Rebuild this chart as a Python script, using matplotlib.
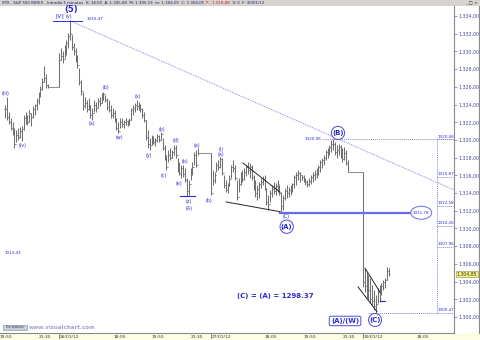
import matplotlib
matplotlib.use("Agg")
import matplotlib.pyplot as plt
from matplotlib.collections import LineCollection
from matplotlib.patches import Rectangle, Ellipse

# ---------------- data ----------------
SESSION = 82                      # 5-minute slots per session (15:30 .. 22:15)
sessions = ["25/01/12", "26/01/12", "27/01/12", "30/01/12"]
first_bar = 53                    # 25/01/12 19:55

high_25 = [1324.0, 1324.9, 1323.2, 1322.5, 1322.0, 1321.4, 1321.1, 1321.4, 1321.5, 1321.6,
           1322.8, 1323.2, 1322.8, 1323.4, 1323.1, 1323.8, 1324.1, 1324.7, 1325.4, 1326.1,
           1327.0, 1328.4, 1327.5, 1326.3, 1326.0, 1326.0, 1326.0, 1326.0, 1326.0]
low_25 = [1322.5, 1322.3, 1321.8, 1321.1, 1320.6, 1319.1, 1319.8, 1320.0, 1320.2, 1319.9,
          1321.1, 1321.8, 1321.7, 1322.0, 1321.6, 1322.5, 1322.8, 1323.4, 1324.1, 1324.9,
          1325.7, 1326.6, 1325.9, 1325.9, 1326.0, 1326.0, 1326.0, 1326.0, 1326.0]
close_25 = [1323.5, 1322.6, 1322.0, 1321.4, 1320.8, 1319.6, 1320.6, 1320.3, 1321.0, 1321.2,
            1322.5, 1322.2, 1322.0, 1323.0, 1322.6, 1323.5, 1323.9, 1324.4, 1325.0, 1325.8,
            1326.6, 1327.0, 1326.2, 1326.0, 1326.0, 1326.0, 1326.0, 1326.0, 1326.0]

high_26 = [1329.8, 1330.4, 1330.0, 1330.7, 1331.3, 1332.1, 1333.47, 1331.9, 1331.0, 1330.4,
           1329.6, 1328.1, 1326.8, 1325.4, 1324.9, 1324.5, 1324.7, 1324.0, 1323.6, 1324.5,
           1324.3, 1324.7, 1324.9, 1325.3, 1325.4, 1325.1, 1324.7, 1324.5, 1324.0, 1323.6,
           1323.4, 1322.5, 1322.0, 1322.5, 1322.5, 1322.3, 1322.5, 1322.3, 1322.5, 1323.6,
           1324.0, 1324.2, 1324.5, 1324.3, 1324.1, 1323.6, 1323.2, 1322.3, 1321.1, 1320.2,
           1320.6, 1320.4, 1320.2, 1320.7, 1320.6, 1320.9, 1320.2, 1319.4, 1318.3, 1318.9,
           1319.1, 1318.9, 1319.4, 1319.4, 1318.0, 1317.5, 1317.2, 1317.2, 1316.8, 1315.7,
           1315.5, 1316.8, 1317.5, 1318.6, 1318.9, 1319.1,
           1318.5, 1318.5, 1318.5, 1318.5, 1318.5, 1318.5]
low_26 = [1326.0, 1329.0, 1328.7, 1329.3, 1329.6, 1330.4, 1331.3, 1330.2, 1329.6, 1328.8,
          1328.1, 1326.2, 1325.1, 1323.4, 1323.6, 1323.2, 1323.4, 1322.5, 1322.3, 1323.2,
          1323.2, 1323.6, 1323.8, 1324.2, 1324.5, 1324.3, 1323.4, 1323.2, 1322.5, 1322.5,
          1322.0, 1321.1, 1320.8, 1321.4, 1321.5, 1321.4, 1321.7, 1321.6, 1321.7, 1322.3,
          1322.8, 1323.2, 1323.4, 1323.4, 1323.2, 1322.5, 1322.0, 1320.0, 1319.1, 1318.9,
          1319.4, 1319.6, 1319.3, 1319.8, 1319.8, 1320.0, 1318.9, 1317.7, 1316.6, 1317.5,
          1317.7, 1318.0, 1318.3, 1318.0, 1316.4, 1316.0, 1315.7, 1315.8, 1315.3, 1313.7,
          1313.8, 1315.5, 1316.0, 1317.2, 1316.9, 1318.3,
          1318.5, 1318.5, 1318.5, 1318.5, 1318.5, 1318.5]
close_26 = [1329.0, 1329.5, 1329.2, 1330.3, 1331.0, 1331.8, 1332.0, 1330.5, 1330.0, 1329.2,
            1328.5, 1326.6, 1325.5, 1323.8, 1324.2, 1323.5, 1324.0, 1322.8, 1323.0, 1324.0,
            1323.6, 1324.4, 1324.2, 1325.0, 1325.2, 1324.5, 1323.7, 1323.4, 1322.8, 1323.0,
            1322.3, 1321.4, 1321.0, 1322.0, 1321.8, 1322.0, 1322.2, 1321.9, 1322.3, 1323.4,
            1323.6, 1324.0, 1323.8, 1324.0, 1323.5, 1322.8, 1322.3, 1320.3, 1319.5, 1319.4,
            1320.0, 1319.8, 1320.0, 1320.4, 1320.0, 1320.7, 1319.1, 1318.0, 1316.9, 1318.3,
            1318.0, 1318.6, 1319.1, 1318.3, 1316.6, 1316.3, 1316.8, 1316.2, 1315.5, 1314.2,
            1315.0, 1316.5, 1317.0, 1318.3, 1317.2, 1318.5,
            1318.5, 1318.5, 1318.5, 1318.5, 1318.5, 1318.5]

high_27 = [1318.5, 1316.6, 1316.4, 1317.5, 1317.7, 1318.1, 1318.0, 1316.0, 1315.5, 1315.1,
           1316.0, 1317.2, 1317.7, 1317.2, 1315.5, 1315.7, 1316.4, 1316.6, 1316.8, 1317.2,
           1317.5, 1317.4, 1317.2, 1316.0, 1315.5, 1314.9, 1315.3, 1315.7, 1315.9, 1316.0,
           1314.6, 1313.8, 1314.4, 1314.9, 1315.3, 1315.1, 1315.5, 1314.9, 1314.1, 1313.8,
           1314.6, 1314.9, 1314.7, 1314.9, 1315.1, 1316.0, 1316.4, 1316.6, 1316.4, 1316.0,
           1316.0, 1315.7, 1315.5, 1315.7, 1316.0, 1316.4, 1316.6, 1316.8, 1317.2, 1317.7,
           1318.0, 1318.3, 1318.9, 1319.1, 1319.4, 1320.0, 1320.06, 1319.8, 1319.4, 1319.6,
           1319.4, 1319.1, 1319.2, 1318.9, 1317.7,
           1316.4, 1316.4, 1316.4, 1316.4, 1316.4, 1316.4, 1316.4]
low_27 = [1313.8, 1314.9, 1315.1, 1316.4, 1316.6, 1316.8, 1316.0, 1314.6, 1314.1, 1314.0,
          1314.8, 1315.7, 1316.4, 1315.5, 1313.2, 1314.1, 1314.9, 1315.3, 1315.5, 1315.9,
          1316.2, 1315.7, 1315.5, 1314.4, 1313.6, 1313.2, 1313.4, 1314.6, 1314.9, 1314.4,
          1312.7, 1312.1, 1313.0, 1313.6, 1313.9, 1313.8, 1314.1, 1313.8, 1311.78, 1312.1,
          1313.2, 1313.4, 1313.6, 1313.8, 1314.1, 1314.6, 1314.9, 1315.5, 1315.3, 1315.5,
          1315.3, 1314.9, 1314.7, 1314.8, 1315.0, 1315.3, 1315.5, 1315.7, 1316.0, 1316.4,
          1316.8, 1317.2, 1317.7, 1318.0, 1318.3, 1318.6, 1318.9, 1318.3, 1318.0, 1318.3,
          1318.0, 1317.5, 1317.7, 1317.2, 1316.4,
          1316.4, 1316.4, 1316.4, 1316.4, 1316.4, 1316.4, 1316.4]
close_27 = [1314.0, 1315.5, 1316.0, 1317.2, 1317.0, 1317.8, 1316.3, 1314.9, 1314.4, 1314.8,
            1315.6, 1317.0, 1316.8, 1315.7, 1313.6, 1315.0, 1316.0, 1315.6, 1316.4, 1316.9,
            1316.6, 1317.0, 1315.8, 1314.6, 1314.0, 1314.5, 1315.0, 1315.2, 1315.6, 1314.6,
            1313.0, 1312.8, 1314.0, 1314.5, 1314.2, 1314.8, 1315.0, 1314.0, 1312.5, 1313.5,
            1314.2, 1314.0, 1314.4, 1314.6, 1315.0, 1315.8, 1316.0, 1316.3, 1316.0, 1315.8,
            1315.6, 1315.2, 1315.0, 1315.4, 1315.8, 1316.0, 1316.2, 1316.5, 1317.0, 1317.5,
            1317.7, 1318.0, 1318.6, 1318.8, 1319.2, 1319.6, 1319.5, 1318.6, 1318.9, 1319.2,
            1318.3, 1317.8, 1318.5, 1317.4, 1316.4,
            1316.4, 1316.4, 1316.4, 1316.4, 1316.4, 1316.4, 1316.4]

high_30 = [1316.4, 1305.5, 1305.1, 1304.7, 1304.4, 1303.6, 1303.1, 1302.5, 1303.3, 1303.6,
           1303.8, 1304.2, 1304.4, 1305.6, 1305.5]
low_30 = [1303.4, 1302.8, 1302.1, 1301.9, 1301.6, 1301.4, 1300.8, 1300.47, 1301.6, 1301.7,
          1302.5, 1303.1, 1303.3, 1304.2, 1304.6]
close_30 = [1304.0, 1303.5, 1302.6, 1303.0, 1302.0, 1301.8, 1301.2, 1301.5, 1302.8, 1302.0,
            1303.5, 1304.0, 1304.2, 1305.2, 1304.85]

y_ticks = list(range(1300, 1336, 2))
time_labels = [("25/01/12", "19:50"), ("25/01/12", "21:35"),
               ("26/01/12", "18:05"), ("26/01/12", "19:50"), ("26/01/12", "21:35"),
               ("27/01/12", "18:05"), ("27/01/12", "19:50"), ("27/01/12", "21:35"),
               ("30/01/12", "18:05")]

B_LEVEL = 1320.06
A_LEVEL = 1311.78
C_LEVEL = 1300.47
TOP_LEVEL = 1333.47
fib_levels = [1315.87, 1312.58, 1310.26, 1307.96]

# ---------------- build series ----------------
highs = high_25 + high_26 + high_27 + high_30
lows = low_25 + low_26 + low_27 + low_30
closes = close_25 + close_26 + close_27 + close_30
opens = [closes[0]] + closes[:-1]
idx = list(range(first_bar, first_bar + len(highs)))


def slot(day, hhmm):
    h, m = map(int, hhmm.split(":"))
    return sessions.index(day) * SESSION + (h * 60 + m - 930) // 5


def fmt(v):
    s = f"{v:,.2f}"
    return s.replace(",", "X").replace(".", ",").replace("X", ".")


BLUE = "#2a2ad2"
LBLUE = "#8484dc"
BAR = "#707070"

fig = plt.figure(figsize=(4.8, 3.4), dpi=100)
ax = fig.add_axes([0, 7 / 340, 454 / 480, 327 / 340])
ax.set_xlim(50.19, 295.2)
ax.set_ylim(1298.19, 1335.14)

# OHLC bars
segs = []
for i, o, h, l, c in zip(idx, opens, highs, lows, closes):
    segs.append([(i, l), (i, h)])
    segs.append([(i - 0.5, o), (i, o)])
    segs.append([(i, c), (i + 0.5, c)])
ax.add_collection(LineCollection(segs, colors=BAR, linewidths=0.75, zorder=3))

# axes styling
for s in ("left", "top"):
    ax.spines[s].set_visible(False)
ax.spines["right"].set_color("#8a8a8a")
ax.spines["bottom"].set_color("#8a8a8a")
ax.spines["right"].set_linewidth(0.8)
ax.spines["bottom"].set_linewidth(0.8)
ax.set_xticks([])
ax.yaxis.tick_right()
ax.set_yticks(y_ticks)
ax.set_yticklabels([fmt(v) for v in y_ticks])
ax.tick_params(axis="y", length=2, width=0.5, color="#6a6ab0", labelsize=3.4,
               labelcolor="#4444a0", pad=1)

# top level of (5)
ax.plot([78.6, 94.4], [TOP_LEVEL, TOP_LEVEL], color=BLUE, lw=0.7, zorder=4)
ax.text(97.1, 1333.7, f"{TOP_LEVEL:.2f}", color=BLUE, fontsize=3, va="center", ha="left")
ax.text(88.8, 1334.75, "(5)", color=BLUE, fontsize=6.2, fontweight="bold", ha="center", va="center")
ax.text(82.3, 1334.0, "[V]", color=BLUE, fontsize=4.2, ha="center", va="center")
ax.text(87.4, 1334.0, "(v)", color=BLUE, fontsize=3.5, ha="center", va="center")

# trendline
ax.plot([88, 295.2], [TOP_LEVEL, 1314.35], color=LBLUE, lw=0.7, ls=(0, (1, 1)), zorder=2)

# (B) level and fib tool
ax.plot([223.8, 294.6], [B_LEVEL, B_LEVEL], color=LBLUE, lw=0.7, ls=(0, (1, 1)), zorder=2)
ax.text(223.6, B_LEVEL, f"{B_LEVEL:.2f}", color=BLUE, fontsize=3, ha="right", va="center")
ax.plot([286.0, 286.0], [C_LEVEL, B_LEVEL], color=LBLUE, lw=0.7, ls=(0, (1, 1)), zorder=2)
for lev in [B_LEVEL] + fib_levels:
    ax.plot([286.0, 294.6], [lev, lev], color=LBLUE, lw=0.7, ls=(0, (1, 1)), zorder=2)
    ax.text(286.6, lev + 0.08, f"{lev:.2f}", color=BLUE, fontsize=3, ha="left", va="bottom")
ax.plot([248.8, 294.6], [C_LEVEL, C_LEVEL], color=LBLUE, lw=0.7, ls=(0, (1, 1)), zorder=2)
ax.text(286.6, C_LEVEL + 0.08, f"{C_LEVEL:.2f}", color=BLUE, fontsize=3, ha="left", va="bottom")

# (A) level line with ellipse
ax.plot([201.3, 271.9], [A_LEVEL, A_LEVEL], color="#6a6af0", lw=1.6, zorder=4)
ax.add_patch(Ellipse((277.5, A_LEVEL), 11.3, 1.47, fc="white", ec="#6a6af0", lw=0.7, zorder=5))
ax.text(277.5, A_LEVEL, f"{A_LEVEL:.2f}", color=BLUE, fontsize=3, ha="center", va="center", zorder=6)

# small blue level marks
ax.plot([147.3, 155.4], [1313.7, 1313.7], color=BLUE, lw=0.8, zorder=4)
ax.plot([255.3, 258.0], [1301.8, 1301.8], color=BLUE, lw=0.8, zorder=4)

# triangle / wedge lines
for (x0, y0), (x1, y1) in [((181.3, 1317.4), (201.3, 1314.1)),
                           ((172.2, 1313.0), (201.3, 1311.9)),
                           ((243.4, 1303.4), (253.6, 1300.6)),
                           ((247.2, 1305.5), (255.3, 1302.8))]:
    ax.plot([x0, x1], [y0, y1], color="#262626", lw=0.7, zorder=4)

# wave labels
waves = [("(iii)", 53.4, 1325.3), ("(iv)", 62.1, 1319.4), ("(a)", 99.8, 1321.9),
         ("(b)", 107.4, 1325.9), ("(w)", 114.4, 1320.3), ("(x)", 124.7, 1324.9),
         ("(y)", 130.6, 1318.3), ("(b)", 137.6, 1321.2), ("(c)", 138.6, 1316.0),
         ("(d)", 145.2, 1319.9), ("(e)", 146.6, 1315.1), ("(b)", 150.0, 1317.6),
         ("(a)", 156.5, 1319.4), ("(z)", 152.2, 1313.0), ("(A)", 152.2, 1312.3),
         ("(b)", 162.9, 1313.2), ("(i)", 169.5, 1318.95), ("(a)", 169.5, 1318.35),
         ("(C)", 204.5, 1311.3)]
for t, x, y in waves:
    ax.text(x, y, t, color=BLUE, fontsize=3.4, ha="center", va="center", zorder=6)

circ = dict(boxstyle="circle,pad=0.12", fc="white", ec="#4a4ae0", lw=0.7)
ax.text(204.9, 1310.2, "(A)", color=BLUE, fontsize=5, fontweight="bold", ha="center", va="center", bbox=circ, zorder=7)
ax.text(232.6, 1320.8, "(B)", color=BLUE, fontsize=5, fontweight="bold", ha="center", va="center", bbox=circ, zorder=7)
ax.text(252.6, 1299.66, "(C)", color=BLUE, fontsize=5, fontweight="bold", ha="center", va="center", bbox=circ, zorder=7)
ax.text(236.4, 1299.55, "(A)/(W)", color=BLUE, fontsize=5, fontweight="bold", ha="center", va="center",
        bbox=dict(boxstyle="round,pad=0.25", fc="white", ec="#4a4ae0", lw=0.7), zorder=7)
ax.text(198.6, 1302.4, "(C) = (A) = 1298.37", color=BLUE, fontsize=5, fontweight="bold",
        ha="center", va="center", zorder=7)
ax.text(52.9, 1307.2, "1313.43", color=BLUE, fontsize=3, ha="left", va="center")

# last price box on the price scale
ax.text(1.006, closes[-1], fmt(closes[-1]), transform=ax.get_yaxis_transform(), fontsize=3.3,
        color="#333333", ha="left", va="center", clip_on=False,
        bbox=dict(boxstyle="square,pad=0.15", fc="#f4f07a", ec="#8a8a50", lw=0.4), zorder=8)

# bottom time strip
fig.add_artist(Rectangle((0, 0), 1, 7 / 340, transform=fig.transFigure, fc="#fdfde4", ec="none", zorder=0))
xt = ax.get_xaxis_transform()
for day, hm in time_labels:
    ax.text(slot(day, hm) + 1.6, -0.0115, hm, transform=xt, fontsize=3.2, color="#333333",
            ha="center", va="center", clip_on=False)
for k, day in enumerate(sessions[1:], start=1):
    x0 = k * SESSION
    ax.plot([x0, x0], [0, -0.014], transform=xt, color="#555555", lw=0.5, clip_on=False)
    ax.text(x0 + 0.5, -0.0115, day, transform=xt, fontsize=3.2, color="#333333",
            ha="left", va="center", clip_on=False)

# title bar
fig.add_artist(Rectangle((0, 334 / 340), 1, 6 / 340, transform=fig.transFigure, fc="#d6d3ce", ec="none", zorder=0))
t1 = fig.text(2 / 480, 337 / 340,
              "SPX - S&P 500 INDEX - Intradía 5 minutos  H: 16:50  A: 1.305,08  M: 1.305,19  m: 1.304,05  C: 1.304,05  ",
              fontsize=2.8, color="#1a1a70", ha="left", va="center")
t2 = ax.annotate("P: -1.018,88", xy=(1, 0.5), xycoords=t1, fontsize=2.8, color="#d02020",
                 ha="left", va="center", annotation_clip=False)
ax.annotate("  V: 0  F: 30/01/12", xy=(1, 0.5), xycoords=t2, fontsize=2.8, color="#1a1a70",
            ha="left", va="center", annotation_clip=False)
fig.text(471 / 480, 337 / 340, "_ □ ×", fontsize=3.2, color="#333333", ha="center", va="center")

# right frame line
fig.add_artist(plt.Line2D([478.5 / 480, 478.5 / 480], [7 / 340, 334 / 340], transform=fig.transFigure,
                          color="#8a8a8a", lw=0.8))

# footer items
fig.add_artist(Rectangle((3 / 480, (340 - 330) / 340), 24 / 480, 5 / 340, transform=fig.transFigure,
                         fc="#c4d0dc", ec="#7a8a9a", lw=0.4))
fig.text(15 / 480, (340 - 327.5) / 340, "Sin órdenes", fontsize=2.2, color="#333366", ha="center", va="center")
fig.text(29 / 480, (340 - 327.5) / 340, "www.visualchart.com", fontsize=4, color="#a0a0cc",
         fontweight="bold", ha="left", va="center")

fig.savefig("out.png", dpi=100)
